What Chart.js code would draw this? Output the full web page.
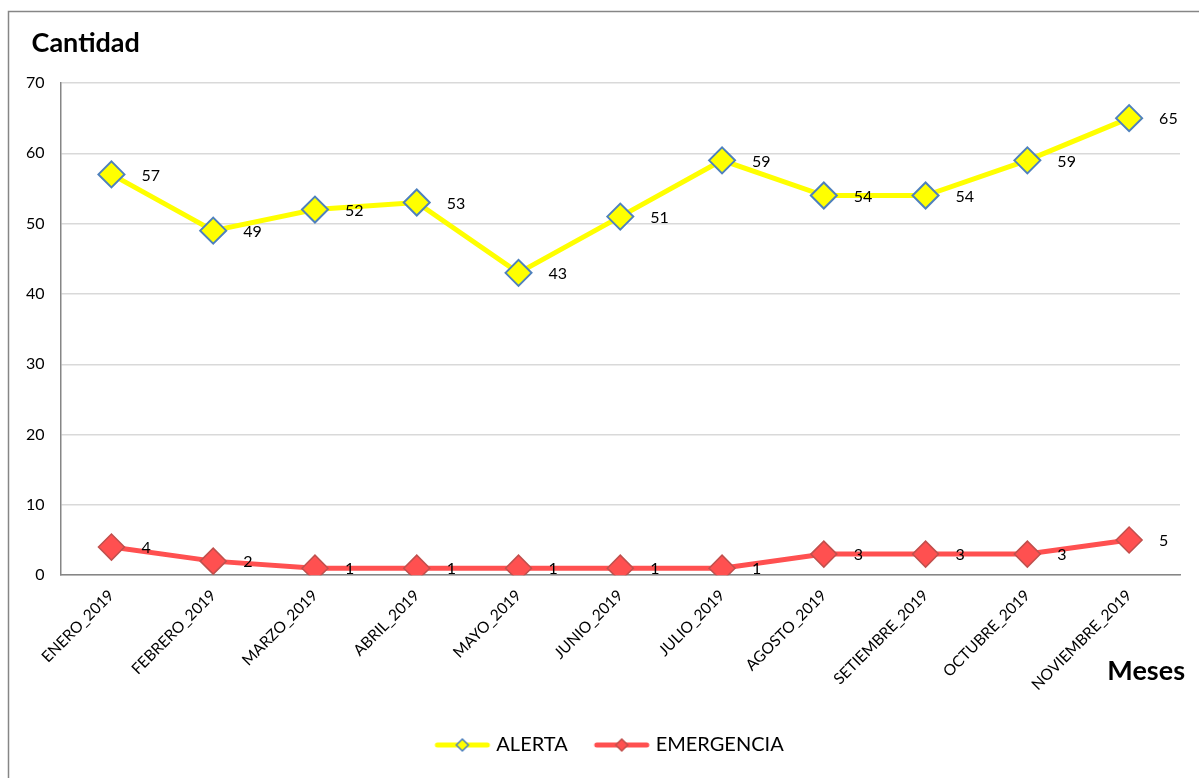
<!DOCTYPE html>
<html>
<head>
<meta charset="utf-8">
<script src="https://cdn.jsdelivr.net/npm/chart.js@4"></script>
<style>
  html, body { margin: 0; padding: 0; background: #fff; }
  #wrap { position: absolute; left: 0; top: 0; width: 1199px; height: 778px; }
</style>
</head>
<body>
<div id="wrap"><canvas id="grafico"></canvas></div>
<script>
var meses = ["ENERO_2019", "FEBRERO_2019", "MARZO_2019", "ABRIL_2019", "MAYO_2019", "JUNIO_2019",
             "JULIO_2019", "AGOSTO_2019", "SETIEMBRE_2019", "OCTUBRE_2019", "NOVIEMBRE_2019"];
var alerta = [57, 49, 52, 53, 43, 51, 59, 54, 54, 59, 65];
var emergencia = [4, 2, 1, 1, 1, 1, 1, 3, 3, 3, 5];
var yMin = 0, yMax = 70, yPaso = 10;

var fuente = "Lato, 'Open Sans', sans-serif";

// icono de leyenda: linea con rombo en el centro
function iconoLeyenda(colorLinea, relleno, borde) {
  var c = document.createElement("canvas");
  c.width = 58; c.height = 16;
  var g = c.getContext("2d");
  g.strokeStyle = colorLinea;
  g.lineWidth = 5;
  g.lineCap = "round";
  g.beginPath(); g.moveTo(4, 8); g.lineTo(54, 8); g.stroke();
  g.fillStyle = relleno;
  g.strokeStyle = borde;
  g.lineWidth = 1.5;
  g.beginPath();
  g.moveTo(29, 2); g.lineTo(35, 8); g.lineTo(29, 14); g.lineTo(23, 8); g.closePath();
  g.fill(); g.stroke();
  return c;
}
var iconoAlerta = iconoLeyenda("#ffff00", "#ffff00", "#4f81bd");
var iconoEmergencia = iconoLeyenda("#ff5050", "#ff5050", "#c0504d");

// borde exterior, titulos de ejes y etiquetas de valor
var extras = {
  id: "extras",
  afterLayout: function (chart) {
    // la leyenda va un poco a la derecha del centro
    chart.legend.left += 16;
    chart.legend.right += 16;
  },
  beforeDraw: function (chart) {
    var g = chart.ctx;
    g.save();
    g.strokeStyle = "#868686";
    g.lineWidth = 1.5;
    g.strokeRect(8.5, 11.5, 1200, 780);
    g.fillStyle = "#000";
    g.font = "bold 27px " + fuente;
    g.textAlign = "left";
    g.textBaseline = "middle";
    g.fillText("Cantidad", chart.chartArea.left - 29, chart.chartArea.top - 40);
    g.restore();
  },
  afterDatasetsDraw: function (chart) {
    var g = chart.ctx;
    g.save();
    g.font = "16px " + fuente;
    g.fillStyle = "#000";
    g.textAlign = "left";
    g.textBaseline = "middle";
    chart.data.datasets.forEach(function (ds, i) {
      var meta = chart.getDatasetMeta(i);
      meta.data.forEach(function (p, j) {
        g.fillText(String(ds.data[j]), p.x + 30, p.y + 1);
      });
    });
    g.font = "bold 27px " + fuente;
    g.textAlign = "right";
    g.fillText("Meses", chart.chartArea.right + 5, chart.chartArea.bottom + 96);
    g.restore();
  }
};

new Chart(document.getElementById("grafico"), {
  type: "line",
  data: {
    labels: meses,
    datasets: [{
      label: "ALERTA",
      data: alerta,
      borderColor: "#ffff00",
      backgroundColor: "#ffff00",
      borderWidth: 5,
      pointStyle: "rectRot",
      pointRadius: 13,
      pointHoverRadius: 13,
      pointBackgroundColor: "#ffff00",
      pointBorderColor: "#4f81bd",
      pointBorderWidth: 2,
      tension: 0
    }, {
      label: "EMERGENCIA",
      data: emergencia,
      borderColor: "#ff5050",
      backgroundColor: "#ff5050",
      borderWidth: 5,
      pointStyle: "rectRot",
      pointRadius: 13,
      pointHoverRadius: 13,
      pointBackgroundColor: "#ff5050",
      pointBorderColor: "#c0504d",
      pointBorderWidth: 1.5,
      tension: 0
    }]
  },
  options: {
    responsive: true,
    maintainAspectRatio: false,
    animation: false,
    layout: { padding: { left: 10, right: 19, top: 83, bottom: 13 } },
    plugins: {
      tooltip: { enabled: false },
      title: { display: false },
      legend: {
        position: "bottom",
        labels: {
          usePointStyle: true,
          pointStyleWidth: 48,
          color: "#000",
          font: { family: fuente, size: 20 },
          padding: 30,
          generateLabels: function (chart) {
            return chart.data.datasets.map(function (ds, i) {
              return {
                text: ds.label,
                pointStyle: i === 0 ? iconoAlerta : iconoEmergencia,
                fillStyle: ds.backgroundColor,
                strokeStyle: ds.borderColor,
                lineWidth: 0,
                fontColor: "#000",
                datasetIndex: i
              };
            });
          }
        }
      }
    },
    scales: {
      x: {
        offset: true,
        grid: { display: false, drawTicks: false },
        border: { display: true, color: "#868686", width: 1.5 },
        ticks: {
          color: "#000",
          font: { family: fuente, size: 15.5 },
          maxRotation: 45,
          minRotation: 45,
          padding: 11,
          autoSkip: false
        }
      },
      y: {
        min: yMin,
        max: yMax,
        grid: { color: "#d9d9d9", lineWidth: 1.5, drawTicks: false },
        border: { display: true, color: "#868686", width: 1.5 },
        ticks: {
          stepSize: yPaso,
          color: "#000",
          font: { family: fuente, size: 16 },
          padding: 16
        }
      }
    }
  },
  plugins: [extras]
});
</script>
</body>
</html>
